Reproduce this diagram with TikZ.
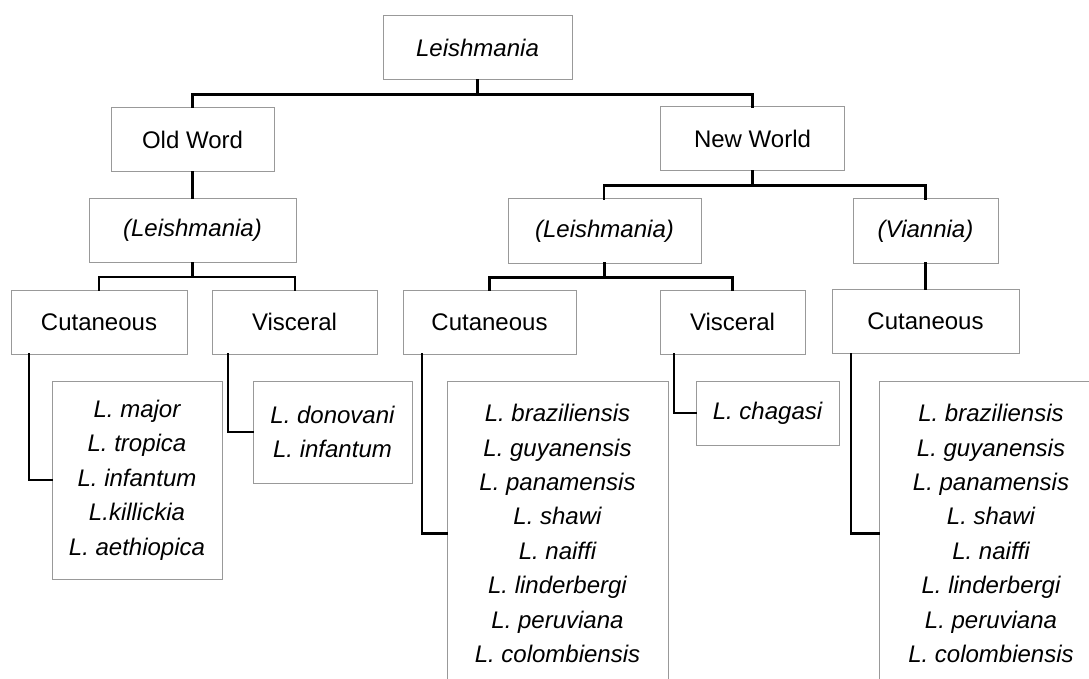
\documentclass[tikz,border=0pt]{standalone}
\usepackage{fontspec}
\setmainfont{Liberation Sans}
\begin{document}
\begin{tikzpicture}[x=1pt,y=-1pt,
  box/.style={draw=black!40,line width=1pt,fill=white,inner sep=0pt,align=center,
    font=\fontsize{24}{34.4}\selectfont,minimum height=64pt},
  link/.style={draw=black,line width=2.4pt,line cap=rect}]
\clip (0,0) rectangle (1089,679);
\fill[white] (0,0) rectangle (1089,679);
% level 0
\node[box,minimum width=189pt] (root) at (477.5,48) {\itshape Leishmania};
% level 1
\node[box,minimum width=163pt] (oldw) at (192.5,139.5) {Old Word};
\node[box,minimum width=184pt] (neww) at (752.5,139) {New World};
% level 2
\node[box,minimum width=207pt] (oleish) at (192.5,230.5) {\itshape (Leishmania)};
\node[box,minimum width=193pt] (nleish) at (604.5,231) {\itshape (Leishmania)};
\node[box,minimum width=145pt] (vian) at (925.5,231) {\itshape (Viannia)};
% level 3
\node[box,minimum width=176pt] (ocut) at (99,322) {Cutaneous};
\node[box,minimum width=165pt] (ovis) at (294.5,322) {Visceral};
\node[box,minimum width=173pt] (ncut) at (489.5,322) {Cutaneous};
\node[box,minimum width=145pt] (nvis) at (732.5,322) {Visceral};
\node[box,minimum width=187pt] (vcut) at (925.5,321.5) {Cutaneous};
% species
\node[box,minimum width=170pt,minimum height=198pt] (osp1) at (137,480)
  {\itshape L. major\\\itshape L. tropica\\\itshape L. infantum\\\itshape L.killickia\\\itshape L. aethiopica};
\node[box,minimum width=159pt,minimum height=102pt] (osp2) at (332.5,432)
  {\itshape L. donovani\\\itshape L. infantum};
\node[box,minimum width=221pt,minimum height=305pt] (nsp1) at (557.5,533.5)
  {\itshape L. braziliensis\\\itshape L. guyanensis\\\itshape L. panamensis\\\itshape L. shawi\\\itshape L. naiffi\\\itshape L. linderbergi\\\itshape L. peruviana\\\itshape L. colombiensis};
\node[box,minimum width=143pt,minimum height=64pt] (nsp2) at (767.5,413)
  {\itshape L. chagasi};
\node[box,minimum width=224pt,minimum height=305pt] (vsp) at (991,533.5)
  {\itshape L. braziliensis\\\itshape L. guyanensis\\\itshape L. panamensis\\\itshape L. shawi\\\itshape L. naiffi\\\itshape L. linderbergi\\\itshape L. peruviana\\\itshape L. colombiensis};
% connectors
\draw[link] (root.south) -- ++(0,14) -| (oldw.north);
\draw[link] (root.south) -- ++(0,14) -| (neww.north);
\draw[link] (oldw.south) -- (oleish.north);
\draw[link] (oleish.south) -- ++(0,14) -| (ocut.north);
\draw[link] (oleish.south) -- ++(0,14) -| ([xshift=0.5pt]ovis.north);
\draw[link] (neww.south) -- ++(0,14) -| ([xshift=-0.5pt]nleish.north);
\draw[link] (neww.south) -- ++(0,14) -| (vian.north);
\draw[link] (nleish.south) -- ++(0,14) -| (ncut.north);
\draw[link] (nleish.south) -- ++(0,14) -| (nvis.north);
\draw[link] (vian.south) -- (vcut.north);
\draw[link] ([xshift=-70pt]ocut.south) |- (osp1.west);
\draw[link] ([xshift=-66.5pt]ovis.south) |- (osp2.west);
\draw[link] ([xshift=-67.5pt]ncut.south) |- (nsp1.west);
\draw[link] ([xshift=-58.5pt]nvis.south) |- (nsp2.west);
\draw[link] ([xshift=-74.5pt]vcut.south) |- (vsp.west);
\end{tikzpicture}
\end{document}
